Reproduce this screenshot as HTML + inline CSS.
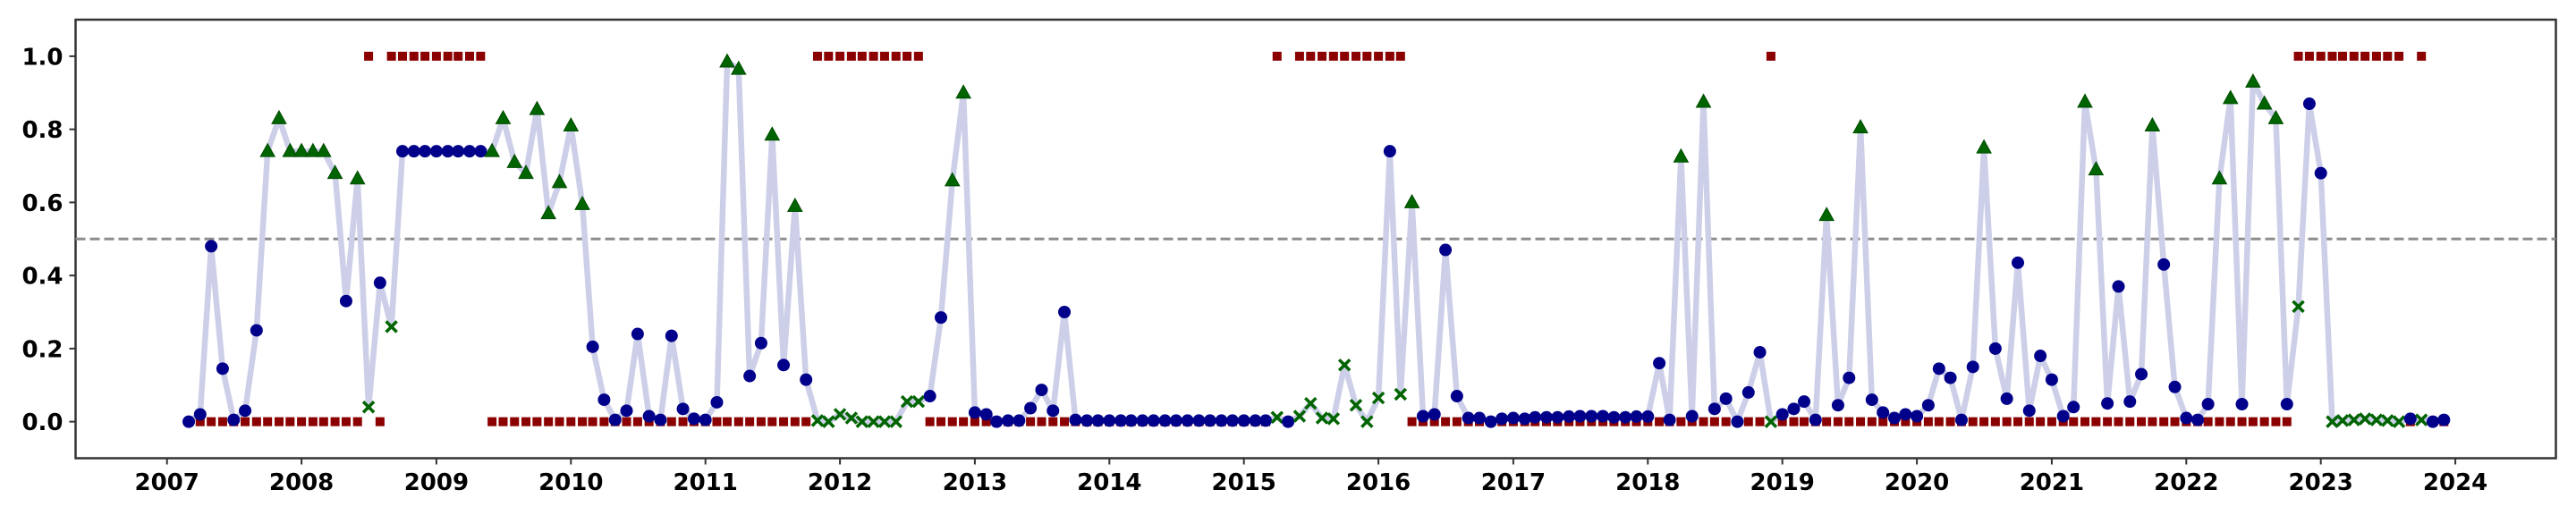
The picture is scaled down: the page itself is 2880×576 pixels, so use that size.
<!DOCTYPE html>
<html><head><meta charset="utf-8"><style>
html,body{margin:0;padding:0;background:#fff;}
svg{display:block;font-family:"DejaVu Sans","Liberation Sans",sans-serif;}
</style></head><body>
<svg id="chart" width="2880" height="576" viewBox="0 0 2880 576" xmlns="http://www.w3.org/2000/svg"></svg>
<script>
// ---- data ----
const startYear = 2007, startMonth = 2; // March 2007 (0-based month)
const values = [
 0.0,0.02,0.48,0.145,0.005,0.03,0.25,0.74,0.83,0.74,
 0.74,0.74,0.74,0.68,0.33,0.665,0.04,0.38,0.26,0.74,0.74,0.74,
 0.74,0.74,0.74,0.74,0.74,0.74,0.83,0.71,0.68,0.855,0.57,0.655,
 0.81,0.595,0.205,0.06,0.005,0.03,0.24,0.015,0.005,0.235,0.035,0.008,
 0.005,0.053,0.985,0.965,0.125,0.215,0.785,0.155,0.59,0.115,0.003,0.0,
 0.02,0.01,0.0,0.0,0.0,0.0,0.055,0.055,0.07,0.285,0.66,0.9,
 0.025,0.02,0.0,0.003,0.003,0.037,0.087,0.03,0.30,0.005,0.003,0.003,
 0.003,0.003,0.003,0.003,0.003,0.003,0.003,0.003,0.003,0.003,0.003,0.003,
 0.003,0.003,0.003,0.012,0.0,0.015,0.05,0.01,0.008,0.155,0.045,0.0,
 0.065,0.74,0.075,0.60,0.015,0.02,0.47,0.07,0.01,0.01,0.0,0.008,
 0.01,0.008,0.012,0.012,0.012,0.014,0.015,0.015,0.015,0.012,0.012,0.014,
 0.014,0.16,0.005,0.725,0.015,0.875,0.035,0.063,0.0,0.08,0.19,0.0,
 0.02,0.035,0.055,0.005,0.565,0.045,0.12,0.805,0.06,0.025,0.01,0.02,
 0.015,0.045,0.145,0.12,0.005,0.15,0.75,0.2,0.063,0.435,0.03,0.18,
 0.115,0.015,0.04,0.875,0.69,0.05,0.37,0.055,0.13,0.81,0.43,0.095,
 0.01,0.005,0.048,0.665,0.885,0.048,0.93,0.87,0.83,0.048,0.315,0.87,
 0.68,0.0,0.003,0.005,0.008,0.005,0.003,0.0,0.008,0.005,0.0,0.005
];
const markers = (
 "cccccccttt"+
 "ttttctxcxccc"+
 "cccccttttttt"+
 "ttcccccccccc"+
 "ccttcctctcxx"+
 "xxxxxxxxcctt"+
 "cccccccccccc"+
 "cccccccccccc"+
 "cccxcxxxxxxx"+
 "xcxtcccccccc"+
 "cccccccccccc"+
 "ccctctcccccx"+
 "cccctcctcccc"+
 "cccccctccccc"+
 "cccttcccctcc"+
 "cccttctttcxc"+
 "cxxxxxxxcxcc").split("");
const flags = [
 null,0,0,0,0,0,0,0,0,0,
 0,0,0,0,0,0,1,0,1,1,1,1,
 1,1,1,1,1,0,0,0,0,0,0,0,
 0,0,0,0,0,0,0,0,0,0,0,0,
 0,0,0,0,0,0,0,0,0,0,1,1,
 1,1,1,1,1,1,1,1,0,0,0,0,
 0,0,0,0,0,0,0,0,0,0,0,0,
 0,0,0,0,0,0,0,0,0,0,0,0,
 0,0,0,1,0,1,1,1,1,1,1,1,
 1,1,1,0,0,0,0,0,0,0,0,0,
 0,0,0,0,0,0,0,0,0,0,0,0,
 0,0,0,0,0,0,0,0,0,0,0,1,
 0,0,0,0,0,0,0,0,0,0,0,0,
 0,0,0,0,0,0,0,0,0,0,0,0,
 0,0,0,0,0,0,0,0,0,0,0,0,
 0,0,0,0,0,0,0,0,0,0,1,1,
 1,1,1,1,1,1,1,1,0,1,0,0
];
const yTicks = [0.0,0.2,0.4,0.6,0.8,1.0];
const xTickYears = [2007,2008,2009,2010,2011,2012,2013,2014,2015,2016,2017,2018,2019,2020,2021,2022,2023,2024];
const threshold = 0.5;

// ---- axes ----
const L=84.5,R=2857.5,T=22,B=512.5;
const yMin=-0.1,yMax=1.1;
const y=v=>B-(v-yMin)/(yMax-yMin)*(B-T);
const DAY=864e5, T0=Date.UTC(2007,0,1);
const xDate=ms=>186.7+(ms-T0)/(365.25*DAY)*150.5;
const xIdx=i=>xDate(Date.UTC(startYear,startMonth+i,1));

const NS="http://www.w3.org/2000/svg";
const svg=document.getElementById('chart');
function mk(tag,attrs,parent){const e=document.createElementNS(NS,tag);for(const k in attrs)e.setAttribute(k,attrs[k]);(parent||svg).appendChild(e);return e;}

const frame=mk('rect',{x:L,y:T,width:R-L,height:B-T,fill:'none',stroke:'#333',"stroke-width":2.5});



yTicks.forEach(v=>{
 const t=mk('line',{x1:L-7,x2:L,y1:y(v),y2:y(v),stroke:'#333',"stroke-width":2});
 
 
 const lb=mk('text',{x:L-14,y:y(v)+9.5,"text-anchor":'end',"font-size":26,"font-weight":'bold',fill:'#000'});
 lb.textContent=v.toFixed(1);
 
 
});
xTickYears.forEach(yr=>{
 const xx=xDate(Date.UTC(yr,0,1));
 const t=mk('line',{x1:xx,x2:xx,y1:B,y2:B+7,stroke:'#333',"stroke-width":2});
 
 
 const lb=mk('text',{x:xx,y:548,"text-anchor":'middle',"font-size":26,"font-weight":'bold',fill:'#000'});
 lb.textContent=String(yr);
 
 
});

const th=mk('line',{x1:L,x2:R,y1:y(threshold),y2:y(threshold),stroke:'#8c8c8c',"stroke-width":3,"stroke-dasharray":'11 5'});



const pts=values.map((v,i)=>xIdx(i).toFixed(1)+','+y(v).toFixed(1)).join(' ');
const pl=mk('polyline',{points:pts,fill:'none',stroke:'#cdcfe9',"stroke-width":6.5,"stroke-linejoin":'round'});



flags.forEach((f,i)=>{
 if(f===null)return;
 const s=mk('rect',{x:xIdx(i)-5,y:y(f)-5,width:10,height:10,fill:'#8b0000'});
 
 
});

values.forEach((v,i)=>{
 const cx=xIdx(i),cy=y(v),m=markers[i];
 let e;
 if(m==='t'){
  e=mk('polygon',{points:`${cx},${cy-8.5} ${cx-8},${cy+6} ${cx+8},${cy+6}`,fill:'#006400',stroke:'#004d00',"stroke-width":1});
  
 }else if(m==='x'){
  e=mk('path',{d:`M${cx-6},${cy-6}L${cx+6},${cy+6}M${cx-6},${cy+6}L${cx+6},${cy-6}`,stroke:'#006400',"stroke-width":3.5,fill:'none'});
  
 }else{
  e=mk('circle',{cx:cx,cy:cy,r:7,fill:'#00008b'});
  
 }
 
});
</script>
</body></html>
